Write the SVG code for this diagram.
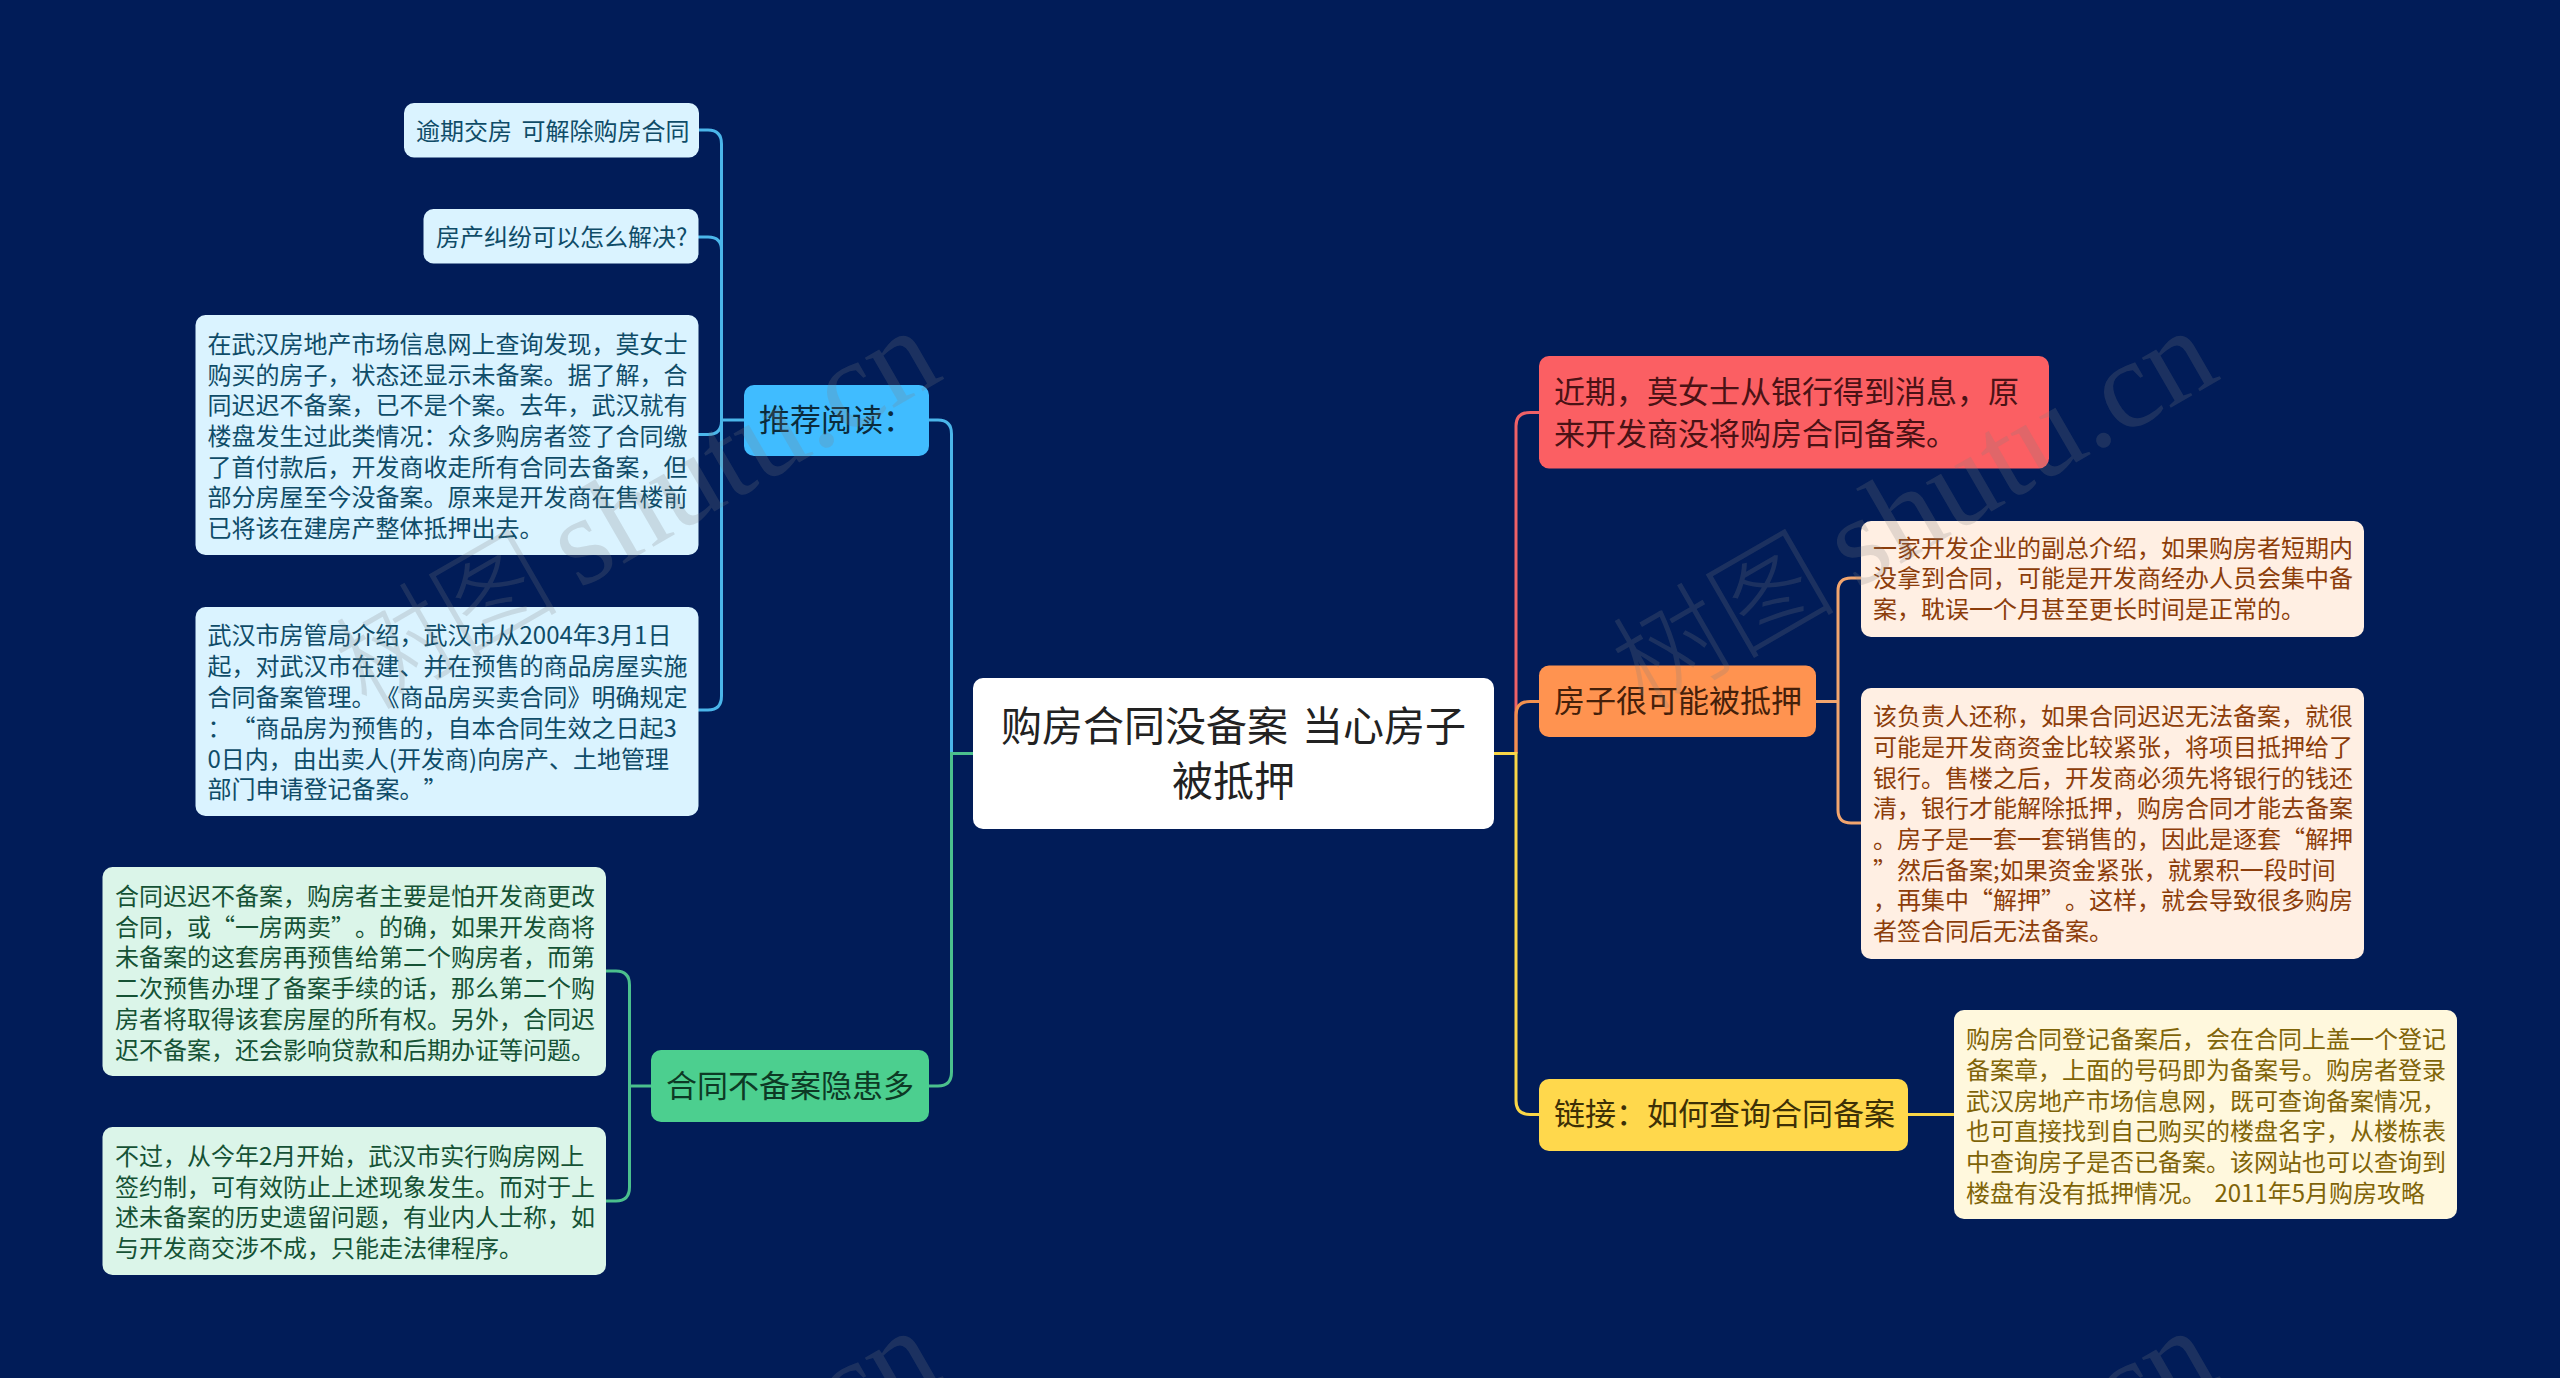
<svg xmlns="http://www.w3.org/2000/svg" width="2560" height="1378" viewBox="0 0 2560 1378">
<style>
text{font-family:"Noto Sans CJK SC","Noto Sans",sans-serif;font-weight:400;text-spacing-trim:space-all;white-space:pre}
.c{fill:none;stroke-width:3}
.l{font-size:24px}.b{font-size:31px}.r{font-size:41px;fill:#222;text-anchor:middle;word-spacing:5px}
.blue rect{fill:#daf3ff}.blue text{fill:#0f4c68}
.green rect{fill:#dbf5e9}.green text{fill:#155235}
.orange rect{fill:#ffefe3}.orange text{fill:#8c3d0a}
.yellow rect{fill:#fff8dd}.yellow text{fill:#7f6408}
.wm text{font-family:"Liberation Serif","Noto Sans CJK SC",serif;font-weight:300;font-size:112px;fill:#808080;fill-opacity:.22;word-spacing:-7px}
.wm tspan{font-size:126px}
</style>
<rect width="2560" height="1378" fill="#011c58"/>
<g id="connectors">
<path class="c" stroke="#4bb6ea" d="M929 420H938Q951.500 420 951.500 434V753.500"/>
<path class="c" stroke="#4bc08d" d="M929 1086H938Q951.500 1086 951.500 1072V753.500H973"/>
<path class="c" stroke="#4bb6ea" d="M698 130H708Q721.500 130 721.500 144V696Q721.500 710 708 710H698M698 237H708Q721.500 237 721.500 250M698 434.500H708Q721.500 434.500 721.500 421M721.500 420H744"/>
<path class="c" stroke="#4bc08d" d="M606 971H616Q629.500 971 629.500 985V1187Q629.500 1201 616 1201H606M629.500 1086H651"/>
<path class="c" stroke="#ef6167" d="M1539 412.500H1530Q1516 412.500 1516 426V753.500"/>
<path class="c" stroke="#f2914f" d="M1539 701.500H1530Q1516 701.500 1516 715V753.500"/>
<path class="c" stroke="#f9d647" d="M1494 753.500H1516V1100.500Q1516 1114.500 1530 1114.500H1539"/>
<path class="c" stroke="#f2a56e" d="M1816 701.500H1838M1861 578H1851Q1838 578 1838 591V810Q1838 823 1851 823H1861"/>
<path class="c" stroke="#f9d647" d="M1908 1114.500H1954"/>
</g>
<g id="root"><rect x="973" y="678" width="521" height="151" rx="10" fill="#fff"/><text class="r" x="1233.500" y="741">购房合同没备案 当心房子</text><text class="r" x="1233.500" y="796">被抵押</text></g>
<g id="n-tuijian"><rect x="744" y="385" width="185" height="71" rx="10" fill="#40bcff"/><text class="b" x="759" y="431" fill="#0b2b3c">推荐阅读：</text></g>
<g id="n-hetong"><rect x="651" y="1050" width="278" height="72" rx="10" fill="#4ccf8f"/><text class="b" x="666" y="1097" fill="#0d3a25">合同不备案隐患多</text></g>
<g id="n-jinqi"><rect x="1539" y="356" width="510" height="112.500" rx="10" fill="#fb5f63"/><text class="b" x="1554" y="403" fill="#4a1215">近期，莫女士从银行得到消息，原</text><text class="b" x="1554" y="445" fill="#4a1215">来开发商没将购房合同备案。</text></g>
<g id="n-fangzi"><rect x="1539" y="665.500" width="277" height="71.500" rx="10" fill="#ff9350"/><text class="b" x="1554" y="712" fill="#45200a">房子很可能被抵押</text></g>
<g id="n-lianjie"><rect x="1539" y="1079" width="369" height="72" rx="10" fill="#ffd84c"/><text class="b" x="1554" y="1125" fill="#3d3006">链接：如何查询合同备案</text></g>
<g id="l1" class="blue"><rect x="404" y="103" width="295" height="54.500" rx="10"/><text class="l" x="416" y="140" style="word-spacing:4px">逾期交房 可解除购房合同</text></g>
<g id="l2" class="blue"><rect x="423.500" y="209" width="275" height="54.500" rx="10"/><text class="l" x="436" y="246">房产纠纷可以怎么解决?</text></g>
<g id="l3" class="blue"><rect x="195.500" y="315" width="503" height="240" rx="10"/>
<text class="l" x="207.500" y="353">在武汉房地产市场信息网上查询发现，莫女士</text>
<text class="l" x="207.500" y="384">购买的房子，状态还显示未备案。据了解，合</text>
<text class="l" x="207.500" y="414">同迟迟不备案，已不是个案。去年，武汉就有</text>
<text class="l" x="207.500" y="445">楼盘发生过此类情况：众多购房者签了合同缴</text>
<text class="l" x="207.500" y="476">了首付款后，开发商收走所有合同去备案，但</text>
<text class="l" x="207.500" y="506">部分房屋至今没备案。原来是开发商在售楼前</text>
<text class="l" x="207.500" y="537">已将该在建房产整体抵押出去。</text></g>
<g id="l4" class="blue"><rect x="195.500" y="607" width="503" height="209" rx="10"/>
<text class="l" x="207.500" y="644">武汉市房管局介绍，武汉市从2004年3月1日</text>
<text class="l" x="207.500" y="675">起，对武汉市在建、并在预售的商品房屋实施</text>
<text class="l" x="207.500" y="706">合同备案管理。《商品房买卖合同》明确规定</text>
<text class="l" x="207.500" y="737">：“商品房为预售的，自本合同生效之日起3</text>
<text class="l" x="207.500" y="768">0日内，由出卖人(开发商)向房产、土地管理</text>
<text class="l" x="207.500" y="798">部门申请登记备案。”</text></g>
<g id="l5" class="green"><rect x="102.500" y="867" width="503.500" height="209" rx="10"/>
<text class="l" x="115" y="905">合同迟迟不备案，购房者主要是怕开发商更改</text>
<text class="l" x="115" y="936">合同，或“一房两卖”。的确，如果开发商将</text>
<text class="l" x="115" y="966">未备案的这套房再预售给第二个购房者，而第</text>
<text class="l" x="115" y="997">二次预售办理了备案手续的话，那么第二个购</text>
<text class="l" x="115" y="1028">房者将取得该套房屋的所有权。另外，合同迟</text>
<text class="l" x="115" y="1059">迟不备案，还会影响贷款和后期办证等问题。</text></g>
<g id="l6" class="green"><rect x="102.500" y="1127" width="503.500" height="148" rx="10"/>
<text class="l" x="115" y="1165">不过，从今年2月开始，武汉市实行购房网上</text>
<text class="l" x="115" y="1196">签约制，可有效防止上述现象发生。而对于上</text>
<text class="l" x="115" y="1226">述未备案的历史遗留问题，有业内人士称，如</text>
<text class="l" x="115" y="1257">与开发商交涉不成，只能走法律程序。</text></g>
<g id="l7" class="orange"><rect x="1861" y="521" width="503" height="116" rx="10"/>
<text class="l" x="1873" y="557">一家开发企业的副总介绍，如果购房者短期内</text>
<text class="l" x="1873" y="587">没拿到合同，可能是开发商经办人员会集中备</text>
<text class="l" x="1873" y="618">案，耽误一个月甚至更长时间是正常的。</text></g>
<g id="l8" class="orange"><rect x="1861" y="688" width="503" height="271" rx="10"/>
<text class="l" x="1873" y="725">该负责人还称，如果合同迟迟无法备案，就很</text>
<text class="l" x="1873" y="756">可能是开发商资金比较紧张，将项目抵押给了</text>
<text class="l" x="1873" y="787">银行。售楼之后，开发商必须先将银行的钱还</text>
<text class="l" x="1873" y="817">清，银行才能解除抵押，购房合同才能去备案</text>
<text class="l" x="1873" y="848">。房子是一套一套销售的，因此是逐套“解押</text>
<text class="l" x="1873" y="879">”然后备案;如果资金紧张，就累积一段时间</text>
<text class="l" x="1873" y="909">，再集中“解押”。这样，就会导致很多购房</text>
<text class="l" x="1873" y="940">者签合同后无法备案。</text></g>
<g id="l9" class="yellow"><rect x="1954" y="1010" width="503" height="209" rx="10"/>
<text class="l" x="1966" y="1048">购房合同登记备案后，会在合同上盖一个登记</text>
<text class="l" x="1966" y="1079">备案章，上面的号码即为备案号。购房者登录</text>
<text class="l" x="1966" y="1110">武汉房地产市场信息网，既可查询备案情况，</text>
<text class="l" x="1966" y="1140">也可直接找到自己购买的楼盘名字，从楼栋表</text>
<text class="l" x="1966" y="1171">中查询房子是否已备案。该网站也可以查询到</text>
<text class="l" x="1966" y="1202" style="word-spacing:3px">楼盘有没有抵押情况。 2011年5月购房攻略</text></g>
<g id="watermark" class="wm">
<text transform="translate(367 712) rotate(-30)">树图 <tspan>shutu.cn</tspan></text>
<text transform="translate(1644 712) rotate(-30)">树图 <tspan>shutu.cn</tspan></text>
<text transform="translate(367 1712) rotate(-30)">树图 <tspan>shutu.cn</tspan></text>
<text transform="translate(1644 1712) rotate(-30)">树图 <tspan>shutu.cn</tspan></text>
</g>
</svg>
